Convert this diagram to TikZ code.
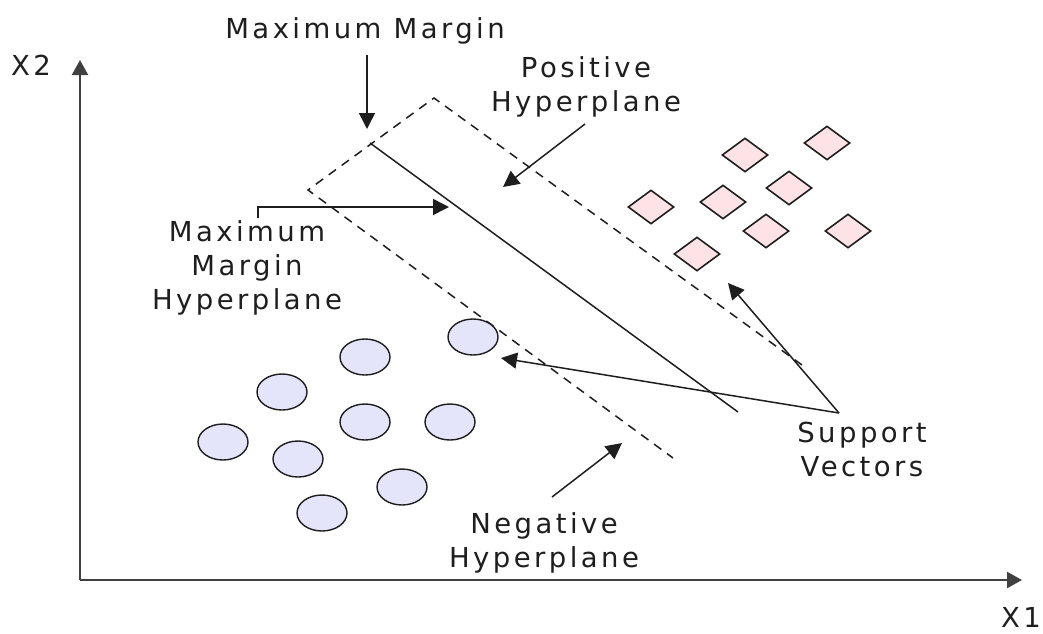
\documentclass[tikz,border=0pt]{standalone}
\usepackage{fontspec}
\setmainfont{DejaVu Sans}[LetterSpace=12.5]
\usetikzlibrary{arrows.meta,shapes.geometric}
\definecolor{diafill}{HTML}{FDE3E6}
\definecolor{circfill}{HTML}{E4E4FA}
\definecolor{inkc}{HTML}{1E1E1E}
\begin{document}
\begin{tikzpicture}[x=1pt,y=-1pt,
  lbl/.style={font=\fontsize{27.5}{34}\selectfont, text=inkc, align=center, anchor=base, inner sep=0pt},
  axisline/.style={draw=black!75, line width=2.2pt, -{Triangle[length=15pt,width=16pt]}},
  pointer/.style={draw=inkc, line width=1.5pt, -{Triangle[length=16pt,width=16pt]}},
  hyper/.style={draw=inkc, line width=1.5pt},
  marginline/.style={draw=inkc, line width=1.5pt, dash pattern=on 9pt off 7pt},
  negbox/.style={ellipse, draw=inkc, line width=1.4pt, fill=circfill, minimum width=50pt, minimum height=36pt, inner sep=0pt},
  posbox/.style={diamond, draw=inkc, line width=1.6pt, fill=diafill, minimum width=46pt, minimum height=34pt, inner sep=0pt}]
\useasboundingbox (0,0) rectangle (1043,633);

% axes
\coordinate (o) at (80,580);
\coordinate (ytip) at (80,60);
\coordinate (xtip) at (1022,580);
\draw[axisline] (o) -- (ytip);
\draw[axisline] (o) -- (xtip);
\node[lbl] (x2) at (31,75) {X2};
\node[lbl] (x1) at (1021,627) {X1};

% margin (dashed) and hyperplane (solid)
\coordinate (pend) at (802,365);
\coordinate (top) at (434,98);
\coordinate (left) at (308,190);
\coordinate (nend) at (673,458);
\draw[marginline] (pend) -- (top) -- (left) -- (nend);
\coordinate (hs) at (370,143);
\coordinate (he) at (738,412);
\draw[hyper] (hs) -- (he);

% negative class
\node[negbox] (c1) at (365,357) {};
\node[negbox] (c2) at (282,392) {};
\node[negbox] (c3) at (223,442) {};
\node[negbox] (c4) at (298,459) {};
\node[negbox] (c5) at (365,422) {};
\node[negbox] (c6) at (450,422) {};
\node[negbox] (c7) at (402,487) {};
\node[negbox] (c8) at (322,513) {};
\node[negbox] (c9) at (473,337) {};

% positive class
\node[posbox] (d1) at (745,155) {};
\node[posbox] (d2) at (827,143) {};
\node[posbox] (d3) at (789,188) {};
\node[posbox] (d4) at (723,202) {};
\node[posbox] (d5) at (651,207) {};
\node[posbox] (d6) at (766,231) {};
\node[posbox] (d7) at (848,231) {};
\node[posbox] (d8) at (697,254) {};

% labels (anchor = baseline of last line)
\node[lbl] (mm) at (365,38) {Maximum Margin};
\node[lbl] (ph) at (586,111) {Positive\\Hyperplane};
\node[lbl] (mmh) at (247,309) {Maximum\\Margin\\Hyperplane};
\node[lbl] (nh) at (544,567) {Negative\\Hyperplane};
\node[lbl] (sv) at (862,476) {Support\\Vectors};

% pointers
\coordinate (mmA) at (367,55);
\coordinate (mmB) at (367,129);
\draw[pointer] (mmA) -- (mmB);

\coordinate (phA) at (585,124);
\coordinate (phB) at (503,187);
\draw[pointer] (phA) -- (phB);

\coordinate (mmhA) at (258,218);
\coordinate (mmhB) at (449,207);
\draw[pointer] (mmhA) |- (mmhB);

\coordinate (nhA) at (552,497);
\coordinate (nhB) at (622,443);
\draw[pointer] (nhA) -- (nhB);

\coordinate (svA) at (839,413);
\coordinate (svB) at (728,283);
\coordinate (svC) at (501,358);
\draw[pointer] (svA) -- (svB);
\draw[pointer] (svA) -- (svC);
\end{tikzpicture}
\end{document}
